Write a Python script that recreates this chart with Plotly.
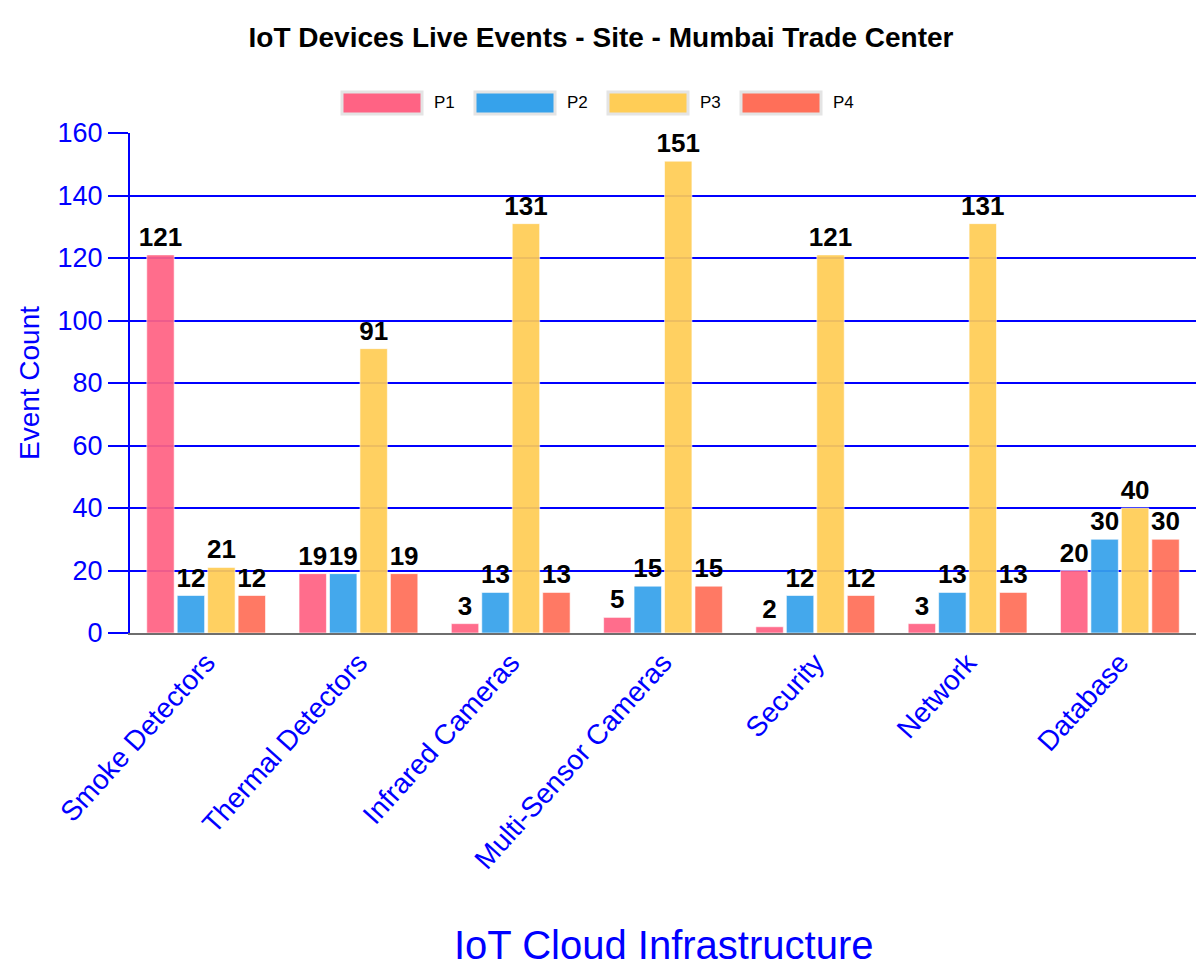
import plotly.graph_objects as go

categories = ["Smoke Detectors", "Thermal Detectors", "Infrared Cameras",
              "Multi-Sensor Cameras", "Security", "Network", "Database"]
series_names = ["P1", "P2", "P3", "P4"]
p1 = [121, 19, 3, 5, 2, 3, 20]
p2 = [12, 19, 13, 15, 12, 13, 30]
p3 = [21, 91, 131, 151, 121, 131, 40]
p4 = [12, 19, 13, 15, 12, 13, 30]
y_ticks = [0, 20, 40, 60, 80, 100, 120, 140, 160]

colors = ["rgb(255,99,132)", "rgb(54,162,235)", "rgb(255,205,86)", "rgb(255,111,89)"]
FONT = "Helvetica Neue, Helvetica, Arial, Liberation Sans, sans-serif"

W, H = 1202, 980
L, R, T, B = 130, 6, 133, 347
PW, PH = W - L - R, H - T - B


def px_x(px):
    return (px - L) / PW


def px_y(py):
    return (H - B - py) / PH


fig = go.Figure()
for name, vals, col in zip(series_names, [p1, p2, p3, p4], colors):
    fig.add_trace(go.Bar(
        name=name, x=categories, y=vals,
        marker=dict(color=col, opacity=0.93,
                    line=dict(color="rgba(255,255,255,0.6)", width=1)),
        text=[str(v) for v in vals], textposition="outside",
        constraintext="none",
        textfont=dict(family=FONT, size=26, color="black", weight="bold"),
        cliponaxis=False, showlegend=False,
    ))

# custom legend (wide swatches like the original)
legend_left = [342, 475, 608, 741]
for i, (name, col) in enumerate(zip(series_names, colors)):
    x0 = legend_left[i]
    fig.add_shape(type="rect", xref="paper", yref="paper",
                  x0=px_x(x0), x1=px_x(x0 + 80), y0=px_y(114), y1=px_y(92),
                  fillcolor=col, line=dict(color="rgb(228,228,228)", width=3),
                  layer="above")
    fig.add_annotation(xref="paper", yref="paper", x=px_x(x0 + 90), y=px_y(103),
                       xanchor="left", yanchor="middle", showarrow=False,
                       text=name, font=dict(family=FONT, size=17, color="black"))

fig.add_annotation(xref="paper", yref="paper", x=px_x(663), y=px_y(945),
                   xanchor="center", yanchor="middle", showarrow=False,
                   text="IoT Cloud Infrastructure",
                   font=dict(family=FONT, size=40, color="blue"))

fig.update_layout(
    width=W, height=H,
    margin=dict(l=L, r=R, t=T, b=B, autoexpand=False),
    paper_bgcolor="white", plot_bgcolor="white",
    barmode="group", bargap=0.2, bargroupgap=0.1,
    font=dict(family=FONT, color="blue"),
    title=dict(text="IoT Devices Live Events - Site - Mumbai Trade Center",
               x=0.5, xanchor="center", y=1 - 37 / H, yanchor="middle",
               font=dict(family=FONT, size=28, color="black", weight="bold")),
    showlegend=False,
)
fig.update_xaxes(
    tickangle=-48, tickfont=dict(family=FONT, size=28, color="blue"),
    showgrid=False, showline=True, linecolor="rgb(110,110,110)", linewidth=2,
    ticks="", automargin=False,
)
fig.update_yaxes(
    range=[0, 160], tickvals=y_ticks, ticktext=[str(v) for v in y_ticks],
    tickfont=dict(family=FONT, size=27, color="blue"),
    showgrid=True, gridcolor="blue", gridwidth=2,
    showline=True, linecolor="blue", linewidth=2,
    ticks="outside", ticklen=20, tickcolor="blue", tickwidth=2,
    zeroline=False, automargin=False,
    title=dict(text="Event Count", font=dict(family=FONT, size=28, color="blue"), standoff=10),
)

fig.write_html("out.html",
               config={"displayModeBar": False},
               post_script="document.body.style.margin='0';document.body.style.overflow='hidden';")
